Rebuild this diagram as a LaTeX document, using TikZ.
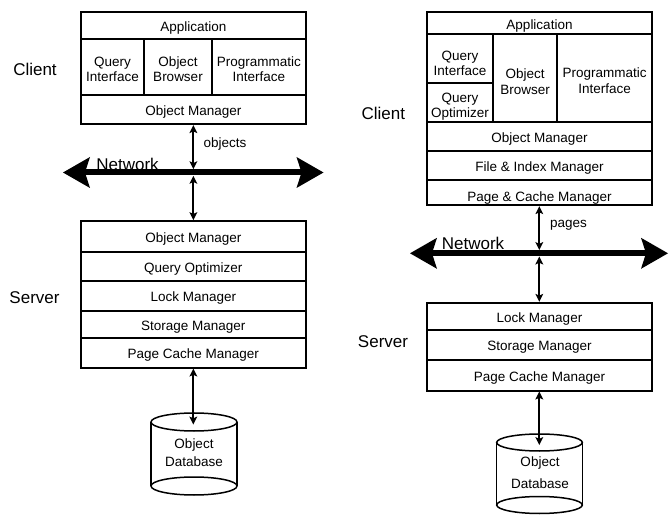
\documentclass[tikz,border=0pt]{standalone}
\usepackage{fontspec}
\setmainfont{Liberation Sans}
\usetikzlibrary{arrows.meta}
\begin{document}
\begin{tikzpicture}[x=1pt,y=-1pt,
 cell/.style={draw, line width=1.8pt, inner sep=0pt, align=center, text height=12pt, text depth=0pt, font=\fontsize{13.5}{14}\selectfont},
 box/.style={draw, line width=1.8pt, inner sep=0pt},
 two/.style={inner sep=0pt, align=center, font=\fontsize{13.5}{14.5}\selectfont},
 side/.style={font=\fontsize{17}{20}\selectfont, inner sep=0pt},
 small/.style={font=\fontsize{13.5}{15}\selectfont, inner sep=0pt},
 link/.style={line width=1.8pt, {Stealth[length=8pt,width=8pt,inset=1.8pt,line width=0pt]}-{Stealth[length=8pt,width=8pt,inset=1.8pt,line width=0pt]}},
 net/.style={line width=6pt, {Stealth[length=27pt,width=31pt,inset=5pt,line width=0pt]}-{Stealth[length=27pt,width=31pt,inset=5pt,line width=0pt]}},
 dbline/.style={line width=1.5pt}
]
\useasboundingbox (0,0) rectangle (672,526);

% ---------- left: client ----------
\node[cell, minimum width=225.3pt, minimum height=26.7pt] (lApp) at (193.35,25.35) {Application};
\node[box, minimum width=63.6pt, minimum height=56.3pt] (lQI) at (112.5,66.85) {};
\node[box, minimum width=67.4pt, minimum height=56.3pt] (lOB) at (178,66.85) {};
\node[box, minimum width=94.3pt, minimum height=56.3pt] (lPI) at (258.85,66.85) {};
\node[two] (lQIt) at ([yshift=-2.5pt]lQI.center) {Query\\Interface};
\node[two] (lOBt) at ([yshift=-2.5pt]lOB.center) {Object\\Browser};
\node[two] (lPIt) at ([yshift=-2.5pt]lPI.center) {Programmatic\\Interface};
\node[cell, minimum width=225.3pt, minimum height=29.3pt] (lOM) at (193.35,109.65) {Object Manager};
\node[side] (lClient) at (35,69) {Client};

% ---------- left: network ----------
\coordinate (lnW) at (63,172.5);
\coordinate (lnE) at (323.5,172.5);
\coordinate (lnU) at (193.35,169.2);
\coordinate (lnD) at (193.35,175.8);
\draw[net] (lnW) -- (lnE);
\node[side] (lNet) at (127.5,164.5) {Network};
\node[small] (lObj) at (225,144) {objects};

% ---------- left: server ----------
\node[cell, minimum width=225.3pt, minimum height=31pt] (lsOM) at (193.35,236.5) {Object Manager};
\node[cell, minimum width=225.3pt, minimum height=29pt] (lsQO) at (193.35,266.5) {Query Optimizer};
\node[cell, minimum width=225.3pt, minimum height=29.7pt] (lsLM) at (193.35,295.85) {Lock Manager};
\node[cell, minimum width=225.3pt, minimum height=27.3pt] (lsSM) at (193.35,324.35) {Storage Manager};
\node[cell, minimum width=225.3pt, minimum height=29.7pt] (lsPC) at (193.35,352.85) {Page Cache Manager};
\node[side] (lServer) at (34.5,298) {Server};

\draw[link] (lOM.south) -- (lnU);
\draw[link] (lnD) -- (lsOM.north);

% ---------- left: database ----------
\draw[dbline] (151,422) -- (151,486) (237,422) -- (237,486);
\draw[dbline] (194,422) ellipse [x radius=43, y radius=9];
\draw[dbline] (194,486) ellipse [x radius=43, y radius=9];
\coordinate (ldbTop) at (193.35,424.5);
\node[small, align=center, font=\fontsize{13.5}{18}\selectfont] (ldb) at (194,452.5) {Object\\Database};
\draw[link] (lsPC.south) -- (ldbTop);

% ---------- right: client ----------
\node[cell, minimum width=225.6pt, minimum height=22.3pt] (rApp) at (539.5,23.15) {Application};
\node[box, minimum width=66.6pt, minimum height=48.4pt] (rQI) at (460,58.5) {};
\node[box, minimum width=66.6pt, minimum height=39.3pt] (rQO) at (460,102.35) {};
\node[box, minimum width=63.7pt, minimum height=87.7pt] (rOB) at (525.15,78.15) {};
\node[box, minimum width=95.3pt, minimum height=87.7pt] (rPI) at (604.65,78.15) {};
\node[two, font=\fontsize{13.5}{15}\selectfont] (rQIt) at ([yshift=-4.8pt]rQI.center) {Query\\Interface};
\node[two, font=\fontsize{13.5}{15}\selectfont] (rQOt) at ([yshift=-4.5pt]rQO.center) {Query\\Optimizer};
\node[two, font=\fontsize{13.5}{16}\selectfont] (rOBt) at ([yshift=-3.3pt]rOB.center) {Object\\Browser};
\node[two, font=\fontsize{13.5}{16}\selectfont] (rPIt) at ([yshift=-2.8pt]rPI.center) {Programmatic\\Interface};
\node[cell, minimum width=225.6pt, minimum height=29pt] (rOM) at (539.5,136.5) {Object Manager};
\node[cell, minimum width=225.6pt, minimum height=29.3pt] (rFI) at (539.5,165.65) {File \& Index Manager};
\node[cell, minimum width=225.6pt, minimum height=25pt, text height=17pt] (rPM) at (539.5,192.8) {Page \& Cache Manager};
\node[side] (rClient) at (383.3,113.3) {Client};

% ---------- right: network ----------
\coordinate (rnW) at (410,253.3);
\coordinate (rnE) at (668,253.3);
\coordinate (rnU) at (539.3,250);
\coordinate (rnD) at (539.3,256.6);
\draw[net] (rnW) -- (rnE);
\node[side] (rNet) at (473,243) {Network};
\node[small] (rPages) at (568.5,225) {pages};

% ---------- right: server ----------
\node[cell, minimum width=225.6pt, minimum height=27.3pt] (rsLM) at (539.5,316.35) {Lock Manager};
\node[cell, minimum width=225.6pt, minimum height=30pt] (rsSM) at (539.5,345) {Storage Manager};
\node[cell, minimum width=225.6pt, minimum height=30.7pt] (rsPC) at (539.5,375.35) {Page Cache Manager};
\node[side] (rServer) at (383,341.7) {Server};

\draw[link] (rPM.south -| rnU) -- (rnU);
\draw[link] (rnD) -- (rsLM.north -| rnD);

% ---------- right: database ----------
\draw[dbline] (496.7,442.5) -- (496.7,505) (582.3,442.5) -- (582.3,505);
\draw[dbline] (539.5,442.5) ellipse [x radius=42.8, y radius=8.5];
\draw[dbline] (539.5,505) ellipse [x radius=42.8, y radius=8.5];
\coordinate (rdbTop) at (539.3,445);
\node[small, align=center, font=\fontsize{13.5}{22}\selectfont] (rdb) at (540,473) {Object\\Database};
\draw[link] (rsPC.south -| rdbTop) -- (rdbTop);
\end{tikzpicture}
\end{document}
